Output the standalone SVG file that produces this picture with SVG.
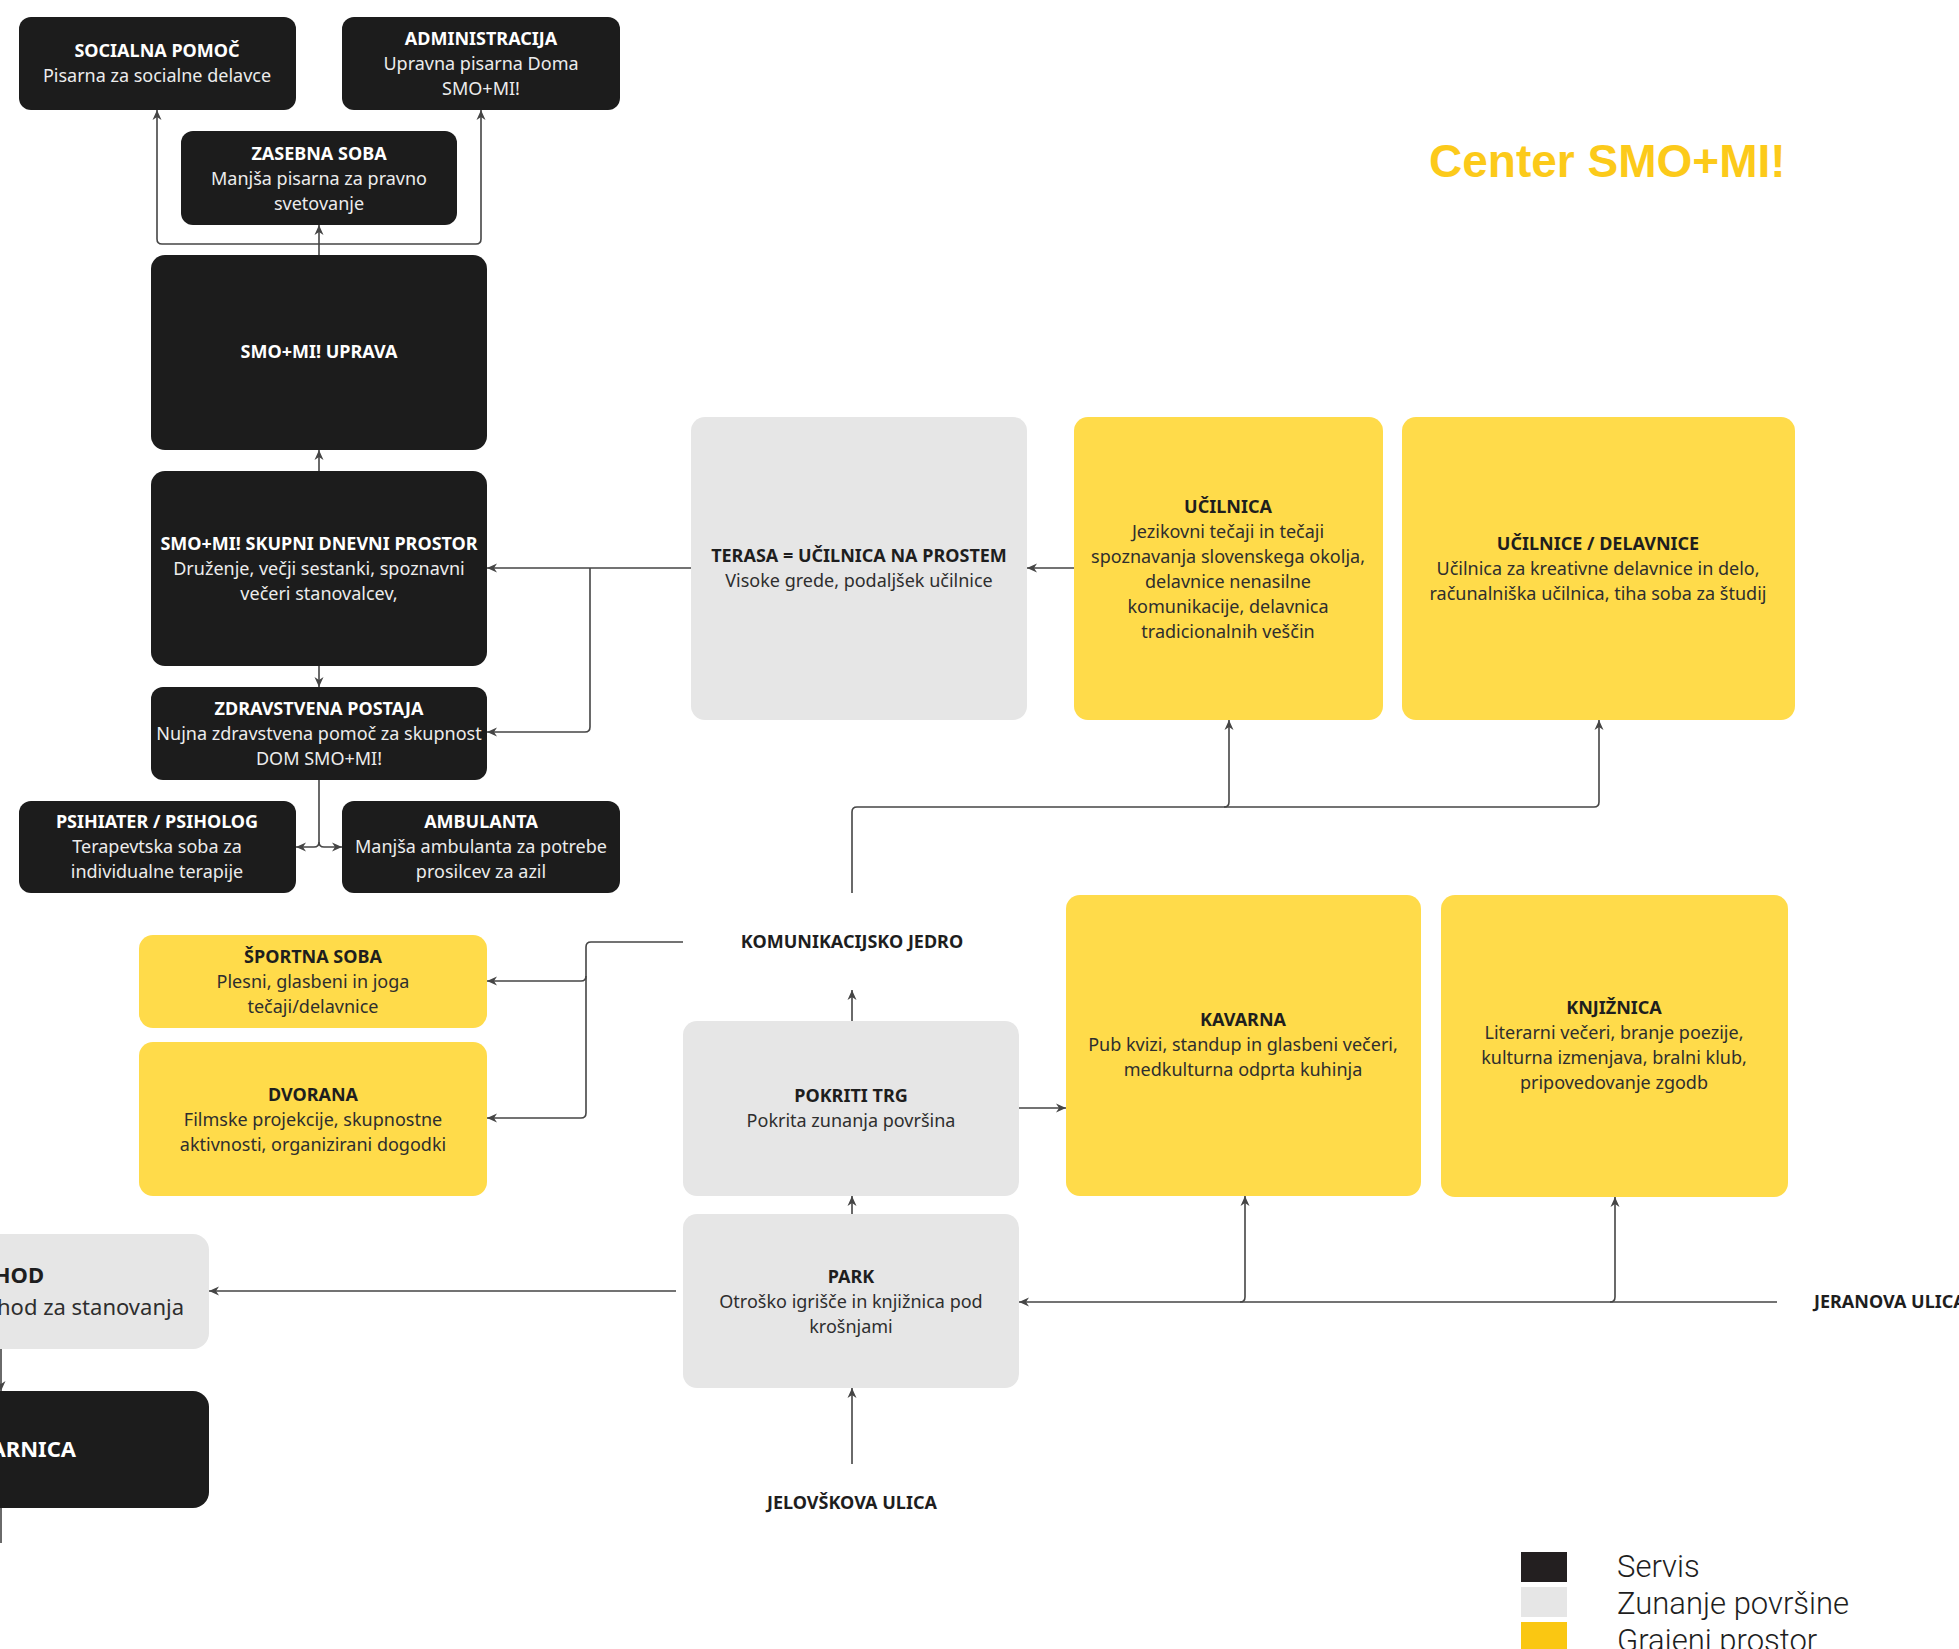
<svg xmlns="http://www.w3.org/2000/svg" width="1959" height="1649" viewBox="0 0 1959 1649">
<style>
.dark rect{fill:#1c1c1c}
.grey rect{fill:#e6e6e6}
.yel rect{fill:#ffdb4a}
text{font-family:"Noto Sans","Open Sans",sans-serif;font-size:18px;text-anchor:middle}
.t{font-weight:700}
.dark text{fill:#ffffff}
.dark .s{fill:#ececec}
.grey text,.yel text{fill:#1e1e1e}
.grey .s,.yel .s{fill:#2e2e2e}
.lbl{font-weight:700;fill:#1e1e1e}
.big{font-size:22px}
#connectors path{fill:none;stroke:#454545;stroke-width:1.6}
.legend{font-family:Roboto,"Liberation Sans",sans-serif;font-weight:300;font-size:31px;text-anchor:start;fill:#1e1e1e}
</style>
<defs>
<marker id="ah" viewBox="0 0 10 10" refX="10" refY="5" markerWidth="10" markerHeight="10" markerUnits="userSpaceOnUse" orient="auto">
<path d="M0,0.5 L10,5 L0,9.5 L3,5 z" fill="#454545"/>
</marker>
</defs>
<rect width="1959" height="1649" fill="#ffffff"/>

<text x="1429" y="177" style="font-family:'Liberation Sans',Arial,sans-serif;font-size:46px;font-weight:700;text-anchor:start;fill:#fcca1a">Center SMO+MI!</text>

<g id="connectors">
<path d="M319,255 V225" marker-end="url(#ah)"/>
<path d="M319,244 H162 Q157,244 157,239 V110" marker-end="url(#ah)"/>
<path d="M319,244 H476 Q481,244 481,239 V110" marker-end="url(#ah)"/>
<path d="M319,471 V450" marker-end="url(#ah)"/>
<path d="M319,666 V687" marker-end="url(#ah)"/>
<path d="M691,568 H487" marker-end="url(#ah)"/>
<path d="M590,568 V727 Q590,732 585,732 H487" marker-end="url(#ah)"/>
<path d="M1074,568 H1027" marker-end="url(#ah)"/>
<path d="M319,780 V842 Q319,847 314,847 H296" marker-end="url(#ah)"/>
<path d="M319,842 Q319,847 324,847 H342" marker-end="url(#ah)"/>
<path d="M852,893 V812 Q852,807 857,807 H1594 Q1599,807 1599,802 V720" marker-end="url(#ah)"/>
<path d="M1224,807 Q1229,807 1229,802 V720" marker-end="url(#ah)"/>
<path d="M683,942 H591 Q586,942 586,947 V1113 Q586,1118 581,1118 H487" marker-end="url(#ah)"/>
<path d="M586,976 Q586,981 581,981 H487" marker-end="url(#ah)"/>
<path d="M852,1021 V990" marker-end="url(#ah)"/>
<path d="M1019,1108 H1066" marker-end="url(#ah)"/>
<path d="M852,1214 V1196" marker-end="url(#ah)"/>
<path d="M676,1291 H209" marker-end="url(#ah)"/>
<path d="M1777,1302 H1019" marker-end="url(#ah)"/>
<path d="M1240,1302 Q1245,1302 1245,1297 V1196" marker-end="url(#ah)"/>
<path d="M1610,1302 Q1615,1302 1615,1297 V1197" marker-end="url(#ah)"/>
<path d="M852,1464 V1388" marker-end="url(#ah)"/>
<path d="M1,1349 V1391" marker-end="url(#ah)"/>
<path d="M1,1508 V1543"/>
</g>

<g id="socialna-pomoc" class="dark">
<rect x="19" y="17" width="277" height="93" rx="12"/>
<text class="t" x="157" y="57">SOCIALNA POMOČ</text>
<text class="s" x="157" y="82">Pisarna za socialne delavce</text>
</g>
<g id="administracija" class="dark">
<rect x="342" y="17" width="278" height="93" rx="12"/>
<text class="t" x="481" y="45">ADMINISTRACIJA</text>
<text class="s" x="481" y="70">Upravna pisarna Doma</text>
<text class="s" x="481" y="95">SMO+MI!</text>
</g>
<g id="zasebna-soba" class="dark">
<rect x="181" y="131" width="276" height="94" rx="12"/>
<text class="t" x="319" y="160">ZASEBNA SOBA</text>
<text class="s" x="319" y="185">Manjša pisarna za pravno</text>
<text class="s" x="319" y="210">svetovanje</text>
</g>
<g id="uprava" class="dark">
<rect x="151" y="255" width="336" height="195" rx="14"/>
<text class="t" x="319" y="358">SMO+MI! UPRAVA</text>
</g>
<g id="skupni-dnevni-prostor" class="dark">
<rect x="151" y="471" width="336" height="195" rx="14"/>
<text class="t" x="319" y="550">SMO+MI! SKUPNI DNEVNI PROSTOR</text>
<text class="s" x="319" y="575">Druženje, večji sestanki, spoznavni</text>
<text class="s" x="319" y="600">večeri stanovalcev,</text>
</g>
<g id="zdravstvena-postaja" class="dark">
<rect x="151" y="687" width="336" height="93" rx="12"/>
<text class="t" x="319" y="715">ZDRAVSTVENA POSTAJA</text>
<text class="s" x="319" y="740">Nujna zdravstvena pomoč za skupnost</text>
<text class="s" x="319" y="765">DOM SMO+MI!</text>
</g>
<g id="psihiater" class="dark">
<rect x="19" y="801" width="277" height="92" rx="12"/>
<text class="t" x="157" y="828">PSIHIATER / PSIHOLOG</text>
<text class="s" x="157" y="853">Terapevtska soba za</text>
<text class="s" x="157" y="878">individualne terapije</text>
</g>
<g id="ambulanta" class="dark">
<rect x="342" y="801" width="278" height="92" rx="12"/>
<text class="t" x="481" y="828">AMBULANTA</text>
<text class="s" x="481" y="853">Manjša ambulanta za potrebe</text>
<text class="s" x="481" y="878">prosilcev za azil</text>
</g>
<g id="sportna-soba" class="yel">
<rect x="139" y="935" width="348" height="93" rx="14"/>
<text class="t" x="313" y="963">ŠPORTNA SOBA</text>
<text class="s" x="313" y="988">Plesni, glasbeni in joga</text>
<text class="s" x="313" y="1013">tečaji/delavnice</text>
</g>
<g id="dvorana" class="yel">
<rect x="139" y="1042" width="348" height="154" rx="14"/>
<text class="t" x="313" y="1101">DVORANA</text>
<text class="s" x="313" y="1126">Filmske projekcije, skupnostne</text>
<text class="s" x="313" y="1151">aktivnosti, organizirani dogodki</text>
</g>
<g id="vhod" class="grey">
<rect x="-40" y="1234" width="249" height="115" rx="16"/>
<text class="t big" x="44" y="1283" style="text-anchor:end">HOD</text>
<text class="s big" x="184" y="1315" style="text-anchor:end">hod za stanovanja</text>
</g>
<g id="arnica" class="dark">
<rect x="-40" y="1391" width="249" height="117" rx="16"/>
<text class="t big" x="76" y="1457" style="text-anchor:end">ARNICA</text>
</g>
<g id="terasa" class="grey">
<rect x="691" y="417" width="336" height="303" rx="14"/>
<text class="t" x="859" y="562">TERASA = UČILNICA NA PROSTEM</text>
<text class="s" x="859" y="587">Visoke grede, podaljšek učilnice</text>
</g>
<g id="ucilnica" class="yel">
<rect x="1074" y="417" width="309" height="303" rx="14"/>
<text class="t" x="1228" y="513">UČILNICA</text>
<text class="s" x="1228" y="538">Jezikovni tečaji in tečaji</text>
<text class="s" x="1228" y="563">spoznavanja slovenskega okolja,</text>
<text class="s" x="1228" y="588">delavnice nenasilne</text>
<text class="s" x="1228" y="613">komunikacije, delavnica</text>
<text class="s" x="1228" y="638">tradicionalnih veščin</text>
</g>
<g id="ucilnice-delavnice" class="yel">
<rect x="1402" y="417" width="393" height="303" rx="14"/>
<text class="t" x="1598" y="550">UČILNICE / DELAVNICE</text>
<text class="s" x="1598" y="575">Učilnica za kreativne delavnice in delo,</text>
<text class="s" x="1598" y="600">računalniška učilnica, tiha soba za študij</text>
</g>
<g id="komunikacijsko-jedro">
<text class="lbl" x="852" y="948">KOMUNIKACIJSKO JEDRO</text>
</g>
<g id="pokriti-trg" class="grey">
<rect x="683" y="1021" width="336" height="175" rx="14"/>
<text class="t" x="851" y="1102">POKRITI TRG</text>
<text class="s" x="851" y="1127">Pokrita zunanja površina</text>
</g>
<g id="kavarna" class="yel">
<rect x="1066" y="895" width="355" height="301" rx="14"/>
<text class="t" x="1243" y="1026">KAVARNA</text>
<text class="s" x="1243" y="1051">Pub kvizi, standup in glasbeni večeri,</text>
<text class="s" x="1243" y="1076">medkulturna odprta kuhinja</text>
</g>
<g id="knjiznica" class="yel">
<rect x="1441" y="895" width="347" height="302" rx="14"/>
<text class="t" x="1614" y="1014">KNJIŽNICA</text>
<text class="s" x="1614" y="1039">Literarni večeri, branje poezije,</text>
<text class="s" x="1614" y="1064">kulturna izmenjava, bralni klub,</text>
<text class="s" x="1614" y="1089">pripovedovanje zgodb</text>
</g>
<g id="park" class="grey">
<rect x="683" y="1214" width="336" height="174" rx="14"/>
<text class="t" x="851" y="1283">PARK</text>
<text class="s" x="851" y="1308">Otroško igrišče in knjižnica pod</text>
<text class="s" x="851" y="1333">krošnjami</text>
</g>
<g id="jeranova-ulica">
<text class="lbl" x="1814" y="1308" style="text-anchor:start">JERANOVA ULICA</text>
</g>
<g id="jelovskova-ulica">
<text class="lbl" x="852" y="1509">JELOVŠKOVA ULICA</text>
</g>

<g id="legend">
<rect x="1521" y="1552" width="46" height="30" fill="#231f20"/>
<rect x="1521" y="1587" width="46" height="30" fill="#e6e6e6"/>
<rect x="1521" y="1622" width="46" height="30" fill="#fac712"/>
<text class="legend" x="1617" y="1577">Servis</text>
<text class="legend" x="1617" y="1614">Zunanje površine</text>
<text class="legend" x="1617" y="1651">Grajeni prostor</text>
</g>
</svg>
